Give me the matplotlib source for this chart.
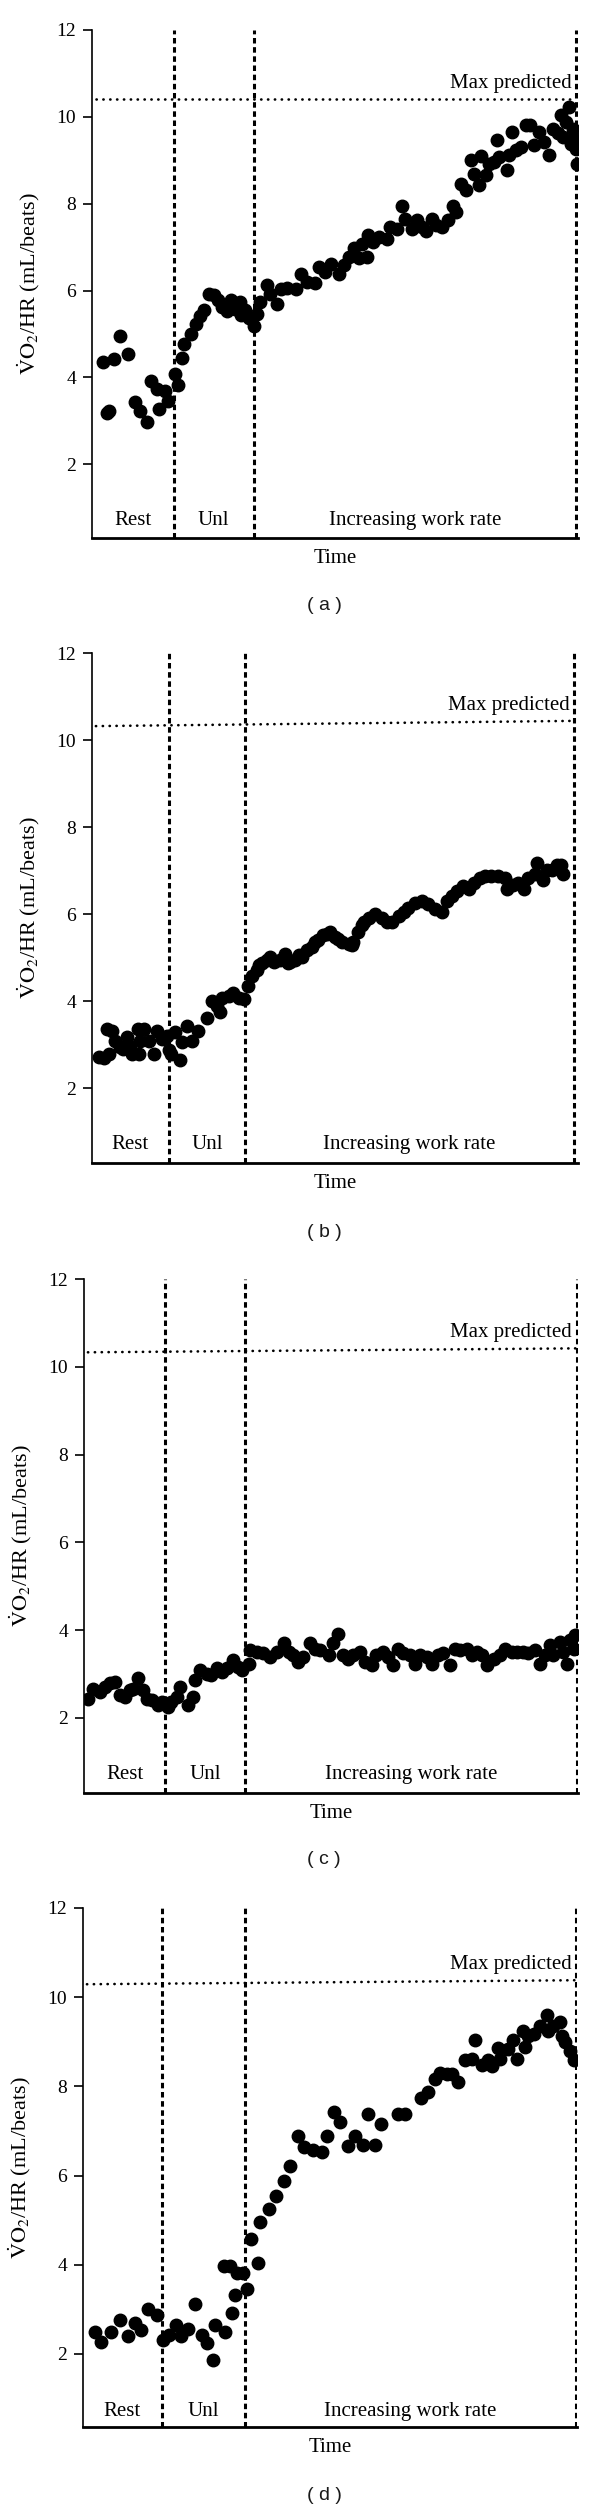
import matplotlib
matplotlib.use('Agg')
import matplotlib.pyplot as plt

plt.rcParams['font.family'] = ['Liberation Serif', 'DejaVu Serif']
plt.rcParams['mathtext.fontset'] = 'stix'

W, H = 600, 2511

# ---- data (time in % of the test, VO2/HR in mL/beat) ----
a_x = [2.3, 3.0, 3.5, 4.6, 5.8, 7.4, 8.9, 9.9, 11.3, 12.1, 13.3, 13.7, 15.1, 15.7, 17.0, 17.7,
       18.5, 19.0, 20.4, 21.4, 22.3, 23.1, 24.0, 25.0, 25.9, 26.7, 27.8, 28.5, 29.5, 30.5, 30.7,
       31.5, 32.4, 33.3, 34.0, 34.6, 36.0, 36.7, 38.1, 38.8, 40.1, 41.9, 43.1, 44.3, 45.8, 46.7,
       48.0, 49.1, 50.8, 51.8, 52.9, 53.9, 54.9, 55.6, 56.6, 56.8, 57.8, 59.0, 60.8, 61.4, 62.8,
       63.8, 64.5, 65.8, 66.8, 68.0, 68.7, 70.0, 70.7, 72.1, 73.3, 74.2, 74.8, 75.9, 76.9, 77.9,
       78.6, 79.7, 80.0, 81.0, 81.7, 82.7, 83.4, 83.8, 85.3, 85.7, 86.4, 87.2, 88.2, 89.3, 90.1,
       91.0, 92.0, 93.1, 94.0, 94.8, 95.8, 96.5, 97.0, 97.5, 98.1, 98.6, 98.9, 99.2, 99.5, 99.7]
a_y = [4.35, 3.19, 3.22, 4.42, 4.95, 4.54, 3.44, 3.23, 2.98, 3.92, 3.73, 3.28, 3.69, 3.46, 4.08, 3.82,
       4.44, 4.77, 5.00, 5.23, 5.42, 5.54, 5.91, 5.90, 5.77, 5.62, 5.52, 5.77, 5.58, 5.73, 5.44,
       5.54, 5.36, 5.19, 5.46, 5.73, 6.13, 5.92, 5.69, 6.04, 6.05, 6.04, 6.38, 6.19, 6.18, 6.54,
       6.42, 6.62, 6.37, 6.58, 6.77, 6.98, 6.75, 7.08, 6.77, 7.27, 7.12, 7.23, 7.19, 7.46, 7.42,
       7.95, 7.65, 7.42, 7.62, 7.46, 7.36, 7.65, 7.52, 7.46, 7.62, 7.95, 7.81, 8.46, 8.31, 9.00,
       8.69, 8.44, 9.10, 8.65, 8.92, 8.96, 9.46, 9.08, 8.77, 9.13, 9.64, 9.23, 9.31, 9.82, 9.81,
       9.35, 9.65, 9.42, 9.12, 9.73, 9.62, 10.04, 9.54, 9.88, 10.23, 9.38, 9.73, 9.50, 9.27, 8.92]

b_x = [1.4, 2.4, 3.4, 3.1, 4.1, 4.7, 5.8, 6.3, 7.2, 7.9, 8.2, 9.6, 9.5, 10.6, 9.9, 11.7, 12.7,
       13.4, 14.4, 15.4, 15.8, 16.3, 17.1, 18.2, 18.5, 19.5, 20.6, 21.9, 23.6, 24.7, 25.7, 26.4,
       26.7, 28.1, 29.1, 30.2, 31.2, 32.2, 32.9, 33.9, 34.3, 35.0, 36.0, 36.7, 37.4, 38.7, 39.8,
       40.4, 40.8, 41.8, 42.5, 43.2, 44.2, 45.2, 45.9, 46.6, 47.6, 48.3, 49.0, 50.0, 50.7, 51.4,
       52.8, 53.5, 53.8, 54.8, 55.5, 55.9, 56.9, 58.3, 59.6, 60.7, 61.7, 63.1, 64.1, 65.1, 66.5,
       67.9, 69.2, 70.6, 72.0, 73.0, 74.0, 75.1, 76.4, 77.5, 78.5, 79.8, 80.9, 82.2, 83.6, 85.0,
       85.3, 86.7, 87.7, 88.8, 89.8, 91.2, 91.5, 92.9, 93.6, 94.6, 95.6, 96.6, 97.0]
b_y = [2.72, 2.70, 2.79, 3.36, 3.32, 3.09, 2.94, 2.90, 3.17, 2.98, 2.79, 2.79, 3.36, 3.36, 3.09, 3.09, 2.79,
       3.32, 3.13, 3.21, 2.87, 2.79, 3.28, 2.64, 3.06, 3.43, 3.09, 3.32, 3.62, 4.00, 3.89, 3.74,
       4.08, 4.11, 4.19, 4.08, 4.04, 4.34, 4.57, 4.72, 4.83, 4.87, 4.94, 5.02, 4.91, 4.94, 5.09,
       4.87, 4.91, 4.94, 5.06, 5.02, 5.17, 5.25, 5.36, 5.40, 5.51, 5.55, 5.58, 5.47, 5.43, 5.36,
       5.32, 5.28, 5.36, 5.58, 5.74, 5.81, 5.92, 6.00, 5.92, 5.81, 5.81, 5.96, 6.04, 6.15, 6.26,
       6.30, 6.23, 6.11, 6.04, 6.30, 6.42, 6.53, 6.64, 6.57, 6.72, 6.83, 6.87, 6.87, 6.87, 6.83,
       6.57, 6.68, 6.72, 6.57, 6.83, 6.91, 7.17, 6.79, 7.02, 7.02, 7.13, 7.13, 6.91]

c_x = [0.9, 1.9, 3.2, 4.3, 5.3, 6.3, 7.3, 8.3, 9.3, 10.0, 11.0, 12.0, 12.7, 13.7, 15.0, 15.7,
       17.1, 17.7, 18.8, 19.4, 21.1, 22.1, 22.5, 23.5, 24.8, 25.8, 26.9, 27.9, 28.9, 30.2, 31.2,
       31.9, 33.3, 33.6, 35.0, 36.3, 37.7, 39.0, 40.4, 41.4, 42.4, 43.4, 44.4, 45.7, 46.8, 47.8,
       49.5, 50.5, 51.5, 52.5, 53.5, 54.5, 55.9, 56.9, 58.2, 59.2, 60.6, 61.6, 62.6, 63.6, 64.6,
       66.0, 67.0, 68.0, 69.4, 70.4, 71.7, 72.7, 74.1, 75.1, 76.1, 77.5, 78.5, 79.5, 80.5, 81.5,
       82.9, 84.2, 85.2, 86.6, 87.6, 88.9, 89.9, 91.3, 92.3, 93.3, 94.3, 95.0, 96.4, 97.0, 97.7,
       98.4, 99.1, 99.4]
c_y = [2.44, 2.67, 2.60, 2.71, 2.79, 2.82, 2.52, 2.48, 2.63, 2.67, 2.90, 2.63, 2.44, 2.41, 2.29, 2.37,
       2.25, 2.37, 2.48, 2.71, 2.29, 2.48, 2.86, 3.09, 3.01, 2.97, 3.13, 3.05, 3.13, 3.32, 3.16,
       3.09, 3.24, 3.54, 3.51, 3.47, 3.39, 3.51, 3.70, 3.51, 3.43, 3.28, 3.39, 3.70, 3.58, 3.54,
       3.43, 3.70, 3.92, 3.43, 3.35, 3.43, 3.51, 3.28, 3.20, 3.43, 3.51, 3.39, 3.20, 3.58, 3.47,
       3.43, 3.24, 3.43, 3.39, 3.24, 3.43, 3.47, 3.20, 3.58, 3.54, 3.58, 3.43, 3.51, 3.43, 3.20,
       3.35, 3.43, 3.58, 3.51, 3.51, 3.51, 3.47, 3.54, 3.24, 3.43, 3.66, 3.43, 3.73, 3.51, 3.24,
       3.77, 3.58, 3.89]

d_x = [2.4, 3.7, 5.7, 7.4, 9.1, 10.5, 11.8, 13.2, 14.9, 16.1, 17.4, 18.9, 19.9, 21.3, 22.6, 24.0,
       25.0, 26.3, 26.7, 28.7, 30.2, 30.7, 28.5, 29.7, 31.1, 32.4, 33.1, 34.1, 35.4, 35.8, 37.6,
       39.0, 40.6, 41.9, 43.6, 44.7, 46.6, 48.3, 49.3, 50.8, 52.0, 53.7, 55.0, 56.7, 57.7, 59.1,
       60.4, 63.8, 65.2, 68.5, 69.9, 71.2, 72.2, 73.6, 74.6, 76.0, 77.3, 78.7, 79.3, 80.7, 82.0,
       82.7, 84.1, 84.5, 86.1, 87.1, 87.8, 89.1, 89.5, 90.1, 91.2, 92.5, 93.9, 94.2, 95.2, 96.6,
       96.9, 97.6, 98.6, 99.3]
d_y = [2.49, 2.26, 2.49, 2.77, 2.41, 2.70, 2.53, 3.00, 2.88, 2.32, 2.43, 2.64, 2.40, 2.55, 3.11, 2.43,
       2.25, 1.87, 2.64, 2.49, 2.92, 3.31, 3.97, 3.97, 3.82, 3.82, 3.46, 4.57, 4.03, 4.96, 5.24,
       5.54, 5.88, 6.22, 6.89, 6.63, 6.58, 6.53, 6.89, 7.43, 7.19, 6.67, 6.89, 6.68, 7.38, 6.68,
       7.15, 7.38, 7.38, 7.73, 7.87, 8.16, 8.30, 8.28, 8.28, 8.09, 8.58, 8.61, 9.03, 8.48, 8.60,
       8.46, 8.85, 8.61, 8.84, 9.03, 8.61, 9.25, 8.88, 9.14, 9.18, 9.36, 9.59, 9.25, 9.36, 9.44,
       9.14, 8.99, 8.80, 8.58]

# phase boundaries (end of rest, end of unloaded, end of test)
a_phases = [16.8, 33.3, 99.6]
b_phases = [15.8, 31.5, 99.2]
c_phases = [16.4, 32.6, 99.7]
d_phases = [15.9, 32.7, 99.8]

# predicted maximum O2 pulse, start/end of the reference line
a_max = [10.41, 10.41]
b_max = [10.32, 10.44]
c_max = [10.33, 10.42]
d_max = [10.29, 10.38]

phase_names = ['Rest', 'Unl', 'Increasing work rate']
yticks = [2, 4, 6, 8, 10, 12]

# axes boxes in pixels: left, right, top, bottom, lower y limit
panels = [
    ('a', a_x, a_y, a_phases, a_max, (92, 578, 30, 538, 0.30), 605),
    ('b', b_x, b_y, b_phases, b_max, (92, 578, 653, 1163, 0.28), 1232),
    ('c', c_x, c_y, c_phases, c_max, (84, 578, 1279, 1793, 0.29), 1860),
    ('d', d_x, d_y, d_phases, d_max, (83, 577, 1908, 2427, 0.36), 2495),
]

fig = plt.figure(figsize=(W / 100, H / 100), dpi=100)

for tag, xs, ys, phases, mx, box, tag_y in panels:
    left, right, top, bottom, ymin = box
    ax = fig.add_axes([left / W, 1 - bottom / H, (right - left) / W, (bottom - top) / H])
    ax.set_xlim(0, 100)
    ax.set_ylim(ymin, 12)

    for p in phases:
        ax.axvline(p, color='black', lw=2.2, linestyle=(0, (1.8, 1.2)), zorder=2)
    ax.plot([0.8, phases[2]], mx, color='black', lw=1.9, linestyle=(0, (0.1, 2.5)),
            dash_capstyle='round', zorder=2)
    ax.text(phases[2] - 0.9, mx[1] + 0.25, 'Max predicted', ha='right', va='baseline',
            fontsize=15)

    bounds = [0] + phases
    for i, name in enumerate(phase_names):
        ax.text((bounds[i] + bounds[i + 1]) / 2, 0.6, name, ha='center', va='baseline',
                fontsize=15)

    ax.plot(xs, ys, 'o', color='black', ms=9, mec='black', zorder=3)

    ax.spines['top'].set_visible(False)
    ax.spines['right'].set_visible(False)
    ax.spines['left'].set_linewidth(1.2)
    ax.spines['bottom'].set_linewidth(2.0)
    ax.set_xticks([])
    ax.set_yticks(yticks)
    ax.tick_params(axis='y', direction='out', length=6.5, width=1.2, pad=5, labelsize=14)
    ax.set_ylabel(r'$\dot{\mathrm{V}}\mathrm{O}_2$/HR (mL/beats)', fontsize=16, labelpad=10)
    ax.set_xlabel('Time', fontsize=15, labelpad=8)

    fig.text(324 / W, 1 - tag_y / H, '( %s )' % tag, ha='center', va='center',
             fontsize=14, family=['Liberation Sans', 'DejaVu Sans'], color='#1a1a1a')

fig.savefig('out.png', dpi=100)
